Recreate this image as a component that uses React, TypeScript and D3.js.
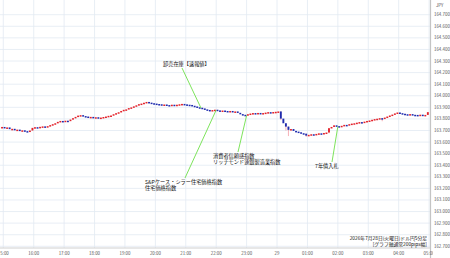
import React from 'react';
import * as d3 from 'd3';

const W = 450;
const H = 258;

// 5-minute closes, first bar starts 14:55
const firstOpen = 163.720;
const closes = [
  163.728, 163.721, 163.724, 163.709, 163.712, 163.700, 163.705, 163.694, 163.699, 163.692,
  163.689, 163.697, 163.720, 163.726, 163.721, 163.729, 163.733, 163.729, 163.735, 163.744,
  163.752, 163.760, 163.772, 163.780, 163.775, 163.782, 163.778, 163.792, 163.804, 163.815,
  163.826, 163.830, 163.822, 163.818, 163.812, 163.815, 163.808, 163.812, 163.805, 163.809,
  163.814, 163.818, 163.824, 163.827, 163.838, 163.847, 163.855, 163.866, 163.876, 163.880,
  163.891, 163.897, 163.906, 163.915, 163.925, 163.930, 163.937, 163.944, 163.938, 163.933,
  163.930, 163.926, 163.924, 163.919, 163.922, 163.917, 163.914, 163.920, 163.916, 163.920,
  163.924, 163.927, 163.923, 163.920, 163.918, 163.911, 163.905, 163.898, 163.894, 163.888,
  163.880, 163.875, 163.868, 163.874, 163.877, 163.871, 163.866, 163.870, 163.866, 163.862,
  163.866, 163.861, 163.862, 163.850, 163.839, 163.833, 163.830, 163.838, 163.844, 163.848,
  163.844, 163.849, 163.845, 163.848, 163.852, 163.856, 163.851, 163.857, 163.859, 163.862,
  163.800, 163.760, 163.731, 163.703, 163.710, 163.694, 163.688, 163.682, 163.674, 163.670,
  163.653, 163.660, 163.665, 163.660, 163.668, 163.673, 163.669, 163.676, 163.680, 163.717,
  163.728, 163.742, 163.735, 163.726, 163.738, 163.746, 163.743, 163.752, 163.757, 163.760,
  163.765, 163.770, 163.765, 163.774, 163.780, 163.784, 163.790, 163.796, 163.799, 163.804,
  163.800, 163.809, 163.818, 163.827, 163.835, 163.845, 163.853, 163.847, 163.842, 163.838,
  163.836, 163.839, 163.833, 163.832, 163.829, 163.834, 163.830, 163.832, 163.856,
];

// [bar index, high, low] for bars with visible wicks
const wicks: [number, number, number][] = [
  [110, 163.864, 163.790],
  [112, 163.762, 163.700],
  [113, 163.735, 163.652],
  [120, 163.672, 163.645],
  [150, 163.806, 163.780],
  [129, 163.722, 163.676],
];

const yTicks = [
  162.7, 162.8, 162.9, 163.0, 163.1, 163.2, 163.3, 163.4, 163.5, 163.6, 163.7,
  163.8, 163.9, 164.0, 164.1, 164.2, 164.3, 164.4, 164.5, 164.6, 164.7,
];
const xLabels = [
  '15:00', '16:00', '17:00', '18:00', '19:00', '20:00', '21:00', '22:00',
  '23:00', '29', '01:00', '02:00', '03:00', '04:00', '05:00',
];

const annoTexts = [
  ['卸売在庫【速報値】'],
  ['S&Pケース・シラー住宅価格指数', '住宅価格指数'],
  ['消費者信頼感指数', 'リッチモンド連銀製造業指数'],
  ['7年債入札'],
];
const annoHours = [6.5, 7, 8, 11];
const titleLines = ['2026年7月28日(火曜日)ドル円5分足', '[グラフ軸通常200pips幅]'];

const FONT = '"Noto Sans CJK JP", "Noto Sans", sans-serif';

export default function App() {
  const plotRight = 430;
  const plotBottom = 248;
  // hours from 15:00
  const x = d3.scaleLinear().domain([0, 14]).range([3.3, 429.1]);
  const y = d3.scaleLinear().domain([162.7, 164.7]).range([246.3, 14.7]);
  const barW = 1.9;

  const bars = closes.map((c, i) => {
    const o = i === 0 ? firstOpen : closes[i - 1];
    const w = wicks.find((d) => d[0] === i);
    const hi = w ? w[1] : Math.max(o, c);
    const lo = w ? w[2] : Math.min(o, c);
    const t = -5 / 60 + i * (5 / 60) + 2.5 / 60;
    return { o, c, hi, lo, cx: x(t) };
  });

  const priceAt = (h: number) => {
    const idx = Math.round((h + 5 / 60) / (5 / 60)) - 1;
    return closes[Math.max(0, Math.min(closes.length - 1, idx))];
  };

  // label layout (positions only)
  const annoLayout = [
    { tx: 163, ty: 66, lx: 182, ly: 68 },
    { tx: 145, ty: 184, lx: 185, ly: 178 },
    { tx: 213, ty: 158, lx: 238, ly: 152 },
    { tx: 315, ty: 168, lx: 332, ly: 162 },
  ];

  return (
    <svg
      width={W}
      height={H}
      style={{ position: 'absolute', left: 0, top: 0, background: '#fff', fontFamily: FONT }}
    >
      <defs>
        <clipPath id="plot">
          <rect x={0} y={0} width={plotRight} height={plotBottom} />
        </clipPath>
        <clipPath id="xlab">
          <rect x={0} y={0} width={433} height={H} />
        </clipPath>
      </defs>
      <rect x={0} y={0} width={W} height={H} fill="#fff" />
      {/* grid */}
      <g clipPath="url(#plot)">
        {yTicks.map((v) => (
          <line key={'h' + v} x1={0} x2={plotRight} y1={y(v)} y2={y(v)} stroke="#e2eaf3" strokeWidth={0.8} />
        ))}
        {xLabels.map((l, i) => (
          <line key={'v' + i} x1={x(i)} x2={x(i)} y1={0} y2={plotBottom} stroke="#e2eaf3" strokeWidth={0.8} />
        ))}
      </g>
      {/* axes */}
      <line x1={plotRight + 0.5} x2={plotRight + 0.5} y1={0} y2={H} stroke="#c4c4c4" strokeWidth={1.2} />
      <line x1={0} x2={plotRight} y1={plotBottom} y2={plotBottom} stroke="#d0d0d0" strokeWidth={1.2} />
      {yTicks.map((v) => (
        <text key={'yl' + v} x={434} y={y(v) + 1.5} fontSize={4.4} fill="#555">
          {v.toFixed(3)}
        </text>
      ))}
      <text x={436} y={7} fontSize={4.4} fill="#555">JPY</text>
      <g clipPath="url(#xlab)">
        {xLabels.map((l, i) => (
          <text key={'xl' + i} x={x(i)} y={254.5} fontSize={4.4} fill="#555" textAnchor="middle">
            {l}
          </text>
        ))}
      </g>
      {/* candles */}
      <g clipPath="url(#plot)">
        {bars.map((b, i) => {
          const up = b.c > b.o;
          const flat = Math.abs(b.c - b.o) < 0.0005;
          const col = flat ? '#f08a9a' : up ? '#e3232c' : '#1f2cae';
          const top = y(Math.max(b.o, b.c));
          const h = Math.max(1.5, Math.abs(y(b.o) - y(b.c)));
          return (
            <g key={i}>
              {b.hi > Math.max(b.o, b.c) + 0.0001 || b.lo < Math.min(b.o, b.c) - 0.0001 ? (
                <line x1={b.cx} x2={b.cx} y1={y(b.hi)} y2={y(b.lo)} stroke="#f07a84" strokeWidth={0.6} />
              ) : null}
              <rect x={b.cx - barW / 2} y={top - 0.3} width={barW} height={h} fill={col} />
            </g>
          );
        })}
      </g>
      {/* annotations */}
      {annoTexts.map((lines, k) => {
        const L = annoLayout[k];
        const h = annoHours[k];
        return (
          <g key={'a' + k}>
            <line x1={L.lx} y1={L.ly} x2={x(h)} y2={y(priceAt(h))} stroke="#6ee04a" strokeWidth={0.9} />
            {lines.map((t, j) => (
              <text key={j} x={L.tx} y={L.ty + j * 5.6} fontSize={5.2} fill="#111">
                {t}
              </text>
            ))}
          </g>
        );
      })}
      {titleLines.map((t, j) => (
        <text key={'t' + j} x={427} y={239.5 + j * 6} fontSize={4.8} fill="#111" textAnchor="end">
          {t}
        </text>
      ))}
    </svg>
  );
}
